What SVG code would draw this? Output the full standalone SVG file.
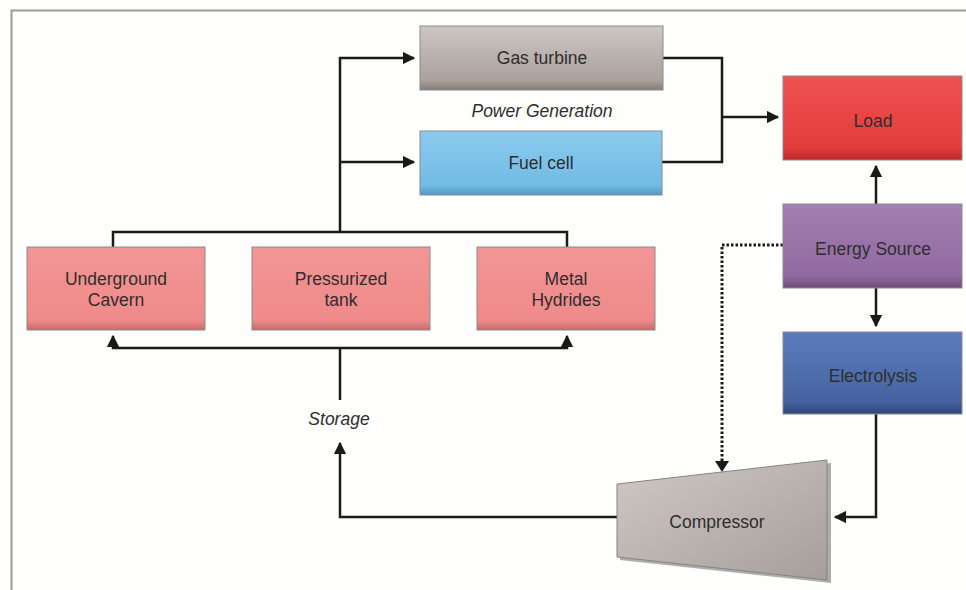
<svg xmlns="http://www.w3.org/2000/svg" width="966" height="590" viewBox="0 0 966 590">
<defs>
<linearGradient id="gGray" x1="0" y1="0" x2="0" y2="1"><stop offset="0" stop-color="#cdc6c2"/><stop offset="0.85" stop-color="#aaa19d"/><stop offset="1" stop-color="#857c78"/></linearGradient>
<linearGradient id="gBlue" x1="0" y1="0" x2="0" y2="1"><stop offset="0" stop-color="#8ccbef"/><stop offset="0.85" stop-color="#72bbe3"/><stop offset="1" stop-color="#4f98c4"/></linearGradient>
<linearGradient id="gRed" x1="0" y1="0" x2="0" y2="1"><stop offset="0" stop-color="#ee5252"/><stop offset="0.85" stop-color="#e43c3c"/><stop offset="1" stop-color="#b82828"/></linearGradient>
<linearGradient id="gPurple" x1="0" y1="0" x2="0" y2="1"><stop offset="0" stop-color="#a47fb3"/><stop offset="0.85" stop-color="#906aa0"/><stop offset="1" stop-color="#6e4c80"/></linearGradient>
<linearGradient id="gDBlue" x1="0" y1="0" x2="0" y2="1"><stop offset="0" stop-color="#5b7cbc"/><stop offset="0.85" stop-color="#4563a0"/><stop offset="1" stop-color="#2e4478"/></linearGradient>
<linearGradient id="gPink" x1="0" y1="0" x2="0" y2="1"><stop offset="0" stop-color="#f39595"/><stop offset="0.88" stop-color="#ef8a8a"/><stop offset="1" stop-color="#c86a6a"/></linearGradient>
<linearGradient id="gComp" x1="0" y1="0" x2="1" y2="1"><stop offset="0" stop-color="#cfc8c5"/><stop offset="1" stop-color="#a69e9a"/></linearGradient>
<marker id="arr" viewBox="0 0 10 10" refX="9" refY="5" markerWidth="5" markerHeight="5" orient="auto" markerUnits="strokeWidth"><path d="M0,0 L10,5 L0,10 z" fill="#1a1a1a"/></marker>
</defs>
<style>
.box{stroke:#8a8a8a;stroke-width:1}
.t{font-family:"Liberation Sans",Arial,sans-serif;font-size:17.5px;fill:#2e2e2e;text-anchor:middle}
.it{font-style:italic}
.c{fill:none;stroke:#1a1a1a;stroke-width:2.5}
.d{fill:none;stroke:#1a1a1a;stroke-width:3;stroke-dasharray:2.5 2}
</style>
<rect x="0" y="0" width="966" height="590" fill="#fefefc"/>
<path d="M11.5,590 V10.5 H966" fill="none" stroke="#999" stroke-width="2"/>

<g id="connectors">
<path class="c" d="M113,247 V232 H567 V247 M340,232 V58 H414" marker-end="url(#arr)"/>
<path class="c" d="M340,162 H414" marker-end="url(#arr)"/>
<path class="c" d="M663,58 H722 V162 H662"/>
<path class="c" d="M722,117 H778" marker-end="url(#arr)"/>
<path class="c" d="M876,204 V166" marker-end="url(#arr)"/>
<path class="c" d="M876,288 V326" marker-end="url(#arr)"/>
<path class="c" d="M876,414 V517 H835" marker-end="url(#arr)"/>
<path class="d" d="M783,245 H722 V463" />
<path d="M715,461 L729,461 L722,472 z" fill="#1a1a1a"/>
<path class="c" d="M617,517 H340 V443" marker-end="url(#arr)"/>
<path class="c" d="M340,400 V348"/>
<path class="c" d="M340,348 H113 V336" marker-end="url(#arr)"/>
<path class="c" d="M340,348 H567 V336" marker-end="url(#arr)"/>
</g>

<g id="gas-turbine"><rect class="box" x="420" y="26" width="243" height="64" fill="url(#gGray)"/><text class="t" x="542" y="64">Gas turbine</text></g>
<g id="power-generation"><text class="t it" x="542" y="117">Power Generation</text></g>
<g id="fuel-cell"><rect class="box" x="420" y="131" width="242" height="64" fill="url(#gBlue)"/><text class="t" x="541" y="169">Fuel cell</text></g>
<g id="load"><rect class="box" x="783" y="76" width="179" height="84" fill="url(#gRed)"/><text class="t" x="873" y="127">Load</text></g>
<g id="energy-source"><rect class="box" x="783" y="204" width="179" height="84" fill="url(#gPurple)"/><text class="t" x="873" y="255">Energy Source</text></g>
<g id="electrolysis"><rect class="box" x="783" y="332" width="179" height="82" fill="url(#gDBlue)"/><text class="t" x="873" y="382">Electrolysis</text></g>
<g id="underground-cavern"><rect class="box" x="27" y="247" width="178" height="83" fill="url(#gPink)"/><text class="t" x="116" y="285">Underground</text><text class="t" x="116" y="306">Cavern</text></g>
<g id="pressurized-tank"><rect class="box" x="252" y="247" width="178" height="83" fill="url(#gPink)"/><text class="t" x="341" y="285">Pressurized</text><text class="t" x="341" y="306">tank</text></g>
<g id="metal-hydrides"><rect class="box" x="477" y="247" width="178" height="83" fill="url(#gPink)"/><text class="t" x="566" y="285">Metal</text><text class="t" x="566" y="306">Hydrides</text></g>
<g id="storage"><text class="t it" x="339" y="425">Storage</text></g>
<g id="compressor">
<path d="M620,487 L831,463 L831,583 L620,560 z" fill="#777" opacity="0.6"/>
<path d="M617,484 L827,460 L827,580 L617,557 z" fill="url(#gComp)" stroke="#8a8280" stroke-width="1"/>
<text class="t" x="717" y="528">Compressor</text>
</g>
</svg>
